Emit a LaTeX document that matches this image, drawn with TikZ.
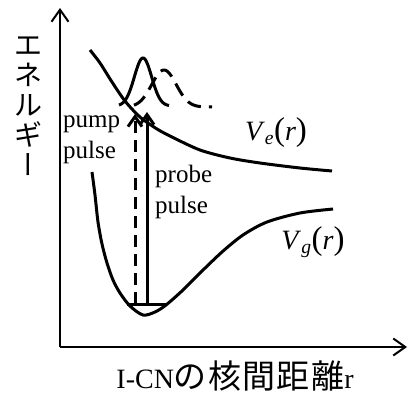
\documentclass[tikz,border=0pt]{standalone}
\usepackage{fontspec}
\setmainfont{Liberation Serif}
\newfontfamily\jp{Noto Sans CJK JP}
\newfontfamily\jpv[RawFeature=+vert]{Noto Sans CJK JP}
\usetikzlibrary{arrows.meta}

\newcommand{\bigpar}[1]{{\fontsize{33}{33}\selectfont(}#1{\fontsize{33}{33}\selectfont)}}

\tikzset{
  axis/.style={line width=2pt, -{Straight Barb[length=12pt,width=17pt]}},
  curve/.style={line width=3pt},
  pulse/.style={line width=3pt, -{Straight Barb[length=10pt,width=14pt]}},
  lbl/.style={inner sep=0pt, font=\fontsize{25}{31}\selectfont, align=left}
}

\begin{document}
\begin{tikzpicture}[x=1pt, y=-1pt]
\useasboundingbox (0,0) rectangle (409,394);
\coordinate (o) at (60,347);
\coordinate (ytop) at (60,8);
\coordinate (xend) at (407,347);
\draw[axis] (o) -- (ytop);
\draw[axis] (o) -- (xend);
\draw[curve] plot[smooth] coordinates {(90,50) (100,63) (112,82) (125,101) (140,117) (157,129) (172,137) (200,150) (230,158) (260,163) (300,168) (332,171)};
\draw[curve] plot[smooth] coordinates {(92,172) (95,195) (98,222) (102,244) (107,263) (113,280) (120,293) (130,306) (143,315) (155,312) (166,305) (183,290) (200,273) (222,252) (243,235) (267,222) (300,213) (333,209)};
\coordinate (lvl l) at (127,304);
\coordinate (lvl r) at (166,304);
\draw[curve] (lvl l) -- (lvl r);
\draw[curve] plot[domain=119:169, samples=60] (\x, {106-48*exp(-((\x-143)^2)/150)});
\draw[curve, dash pattern=on 14pt off 8pt] plot[domain=134:212, samples=80] (\x, {107-37*exp(-((\x-164)^2)/300)});
\coordinate (pump bot) at (135,304);
\coordinate (pump top) at (135,114);
\coordinate (probe bot) at (147,304);
\coordinate (probe top) at (147,112);
\draw[pulse, dash pattern=on 12pt off 7pt] (pump bot) -- (pump top);
\draw[pulse] (probe bot) -- (probe top);
\node[lbl, anchor=north west] (pump) at (63,116) {pump\\pulse};
\node[lbl, anchor=north west] (probe) at (155,165) {probe\\pulse};
\node[inner sep=0pt, font=\fontsize{28}{30}\selectfont] (ve) at (276,133) {\textit{V}\textsubscript{\textit{e}}\bigpar{\textit{r}}};
\node[inner sep=0pt, font=\fontsize{28}{30}\selectfont] (vg) at (313,242) {\textit{V}\textsubscript{\textit{g}}\bigpar{\textit{r}}};
\node[inner sep=0pt, font=\jp\fontsize{28}{30}\selectfont, align=center] (ylbl) at (28,106) {エ\\ネ\\ル\\ギ\\{\jpv ー}};
\node[anchor=base, inner sep=0pt, font=\fontsize{28}{30}\selectfont] (xlbl) at (235,388) {I-CN{\jp\addfontfeature{LetterSpace=4}\fontsize{33}{34}\selectfont の核間距離}r};
\end{tikzpicture}
\end{document}
